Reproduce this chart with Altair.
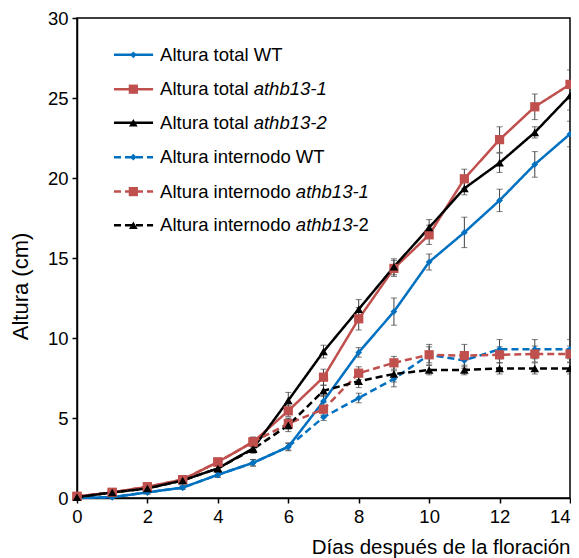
import altair as alt
import pandas as pd

# ---------------- data ----------------
days = list(range(15))

series_names = [
    "Altura total WT",
    "Altura total athb13-1",
    "Altura total athb13-2",
    "Altura internodo WT",
    "Altura internodo athb13-1",
    "Altura internodo athb13-2",
]

total_wt = [0.0, 0.05, 0.35, 0.65, 1.45, 2.2, 3.2, 6.05, 9.1, 11.65, 14.75, 16.6, 18.6, 20.85, 22.75]
total_1 = [0.1, 0.35, 0.7, 1.15, 2.25, 3.5, 5.45, 7.55, 11.2, 14.35, 16.45, 19.95, 22.4, 24.45, 25.85]
total_2 = [0.05, 0.35, 0.6, 1.1, 1.85, 3.1, 6.1, 9.15, 11.8, 14.45, 16.9, 19.35, 20.95, 22.85, 25.15]
int_wt = [0.0, 0.05, 0.35, 0.65, 1.45, 2.2, 3.2, 5.05, 6.25, 7.45, 8.95, 8.6, 9.3, 9.3, 9.3]
int_1 = [0.1, 0.35, 0.7, 1.15, 2.25, 3.5, 4.65, 5.55, 7.8, 8.45, 8.95, 8.9, 8.95, 9.0, 9.0]
int_2 = [0.05, 0.35, 0.6, 1.1, 1.85, 3.05, 4.55, 6.7, 7.3, 7.75, 8.0, 8.0, 8.1, 8.1, 8.1]

err_total_wt = [0.05, 0.05, 0.1, 0.1, 0.15, 0.2, 0.25, 0.35, 0.3, 0.85, 0.5, 0.95, 0.7, 0.8, 0.8]
err_total_1 = [0.05, 0.1, 0.1, 0.15, 0.2, 0.3, 0.35, 0.5, 0.7, 0.5, 0.6, 0.6, 0.8, 0.8, 0.9]
err_total_2 = [0.05, 0.1, 0.1, 0.15, 0.2, 0.25, 0.5, 0.4, 0.6, 0.5, 0.5, 0.4, 0.6, 0.35, 0.9]
err_int_wt = [0.05, 0.05, 0.1, 0.1, 0.15, 0.2, 0.2, 0.2, 0.3, 0.5, 0.5, 0.5, 0.6, 0.6, 0.6]
err_int_1 = [0.05, 0.1, 0.1, 0.15, 0.2, 0.3, 0.35, 0.4, 0.4, 0.4, 0.65, 0.7, 0.5, 0.5, 0.5]
err_int_2 = [0.05, 0.1, 0.1, 0.15, 0.2, 0.25, 0.4, 0.35, 0.4, 0.5, 0.3, 0.3, 0.35, 0.35, 0.35]

x_ticks = [0, 2, 4, 6, 8, 10, 12, 14]
y_ticks = [0, 5, 10, 15, 20, 25, 30]

legend_roman = ["Altura total WT", "Altura total ", "Altura total ",
                "Altura internodo WT", "Altura internodo ", "Altura internodo "]
legend_italic = ["", "athb13-1", "athb13-2", "", "athb13-1", "athb13"]
legend_tail = ["", "", "", "", "", "-2"]

# ---------------- styles ----------------
colors = ["#0070C0", "#C0504D", "#000000", "#0070C0", "#C0504D", "#000000"]
dashes = [[1, 0], [1, 0], [1, 0], [7, 4], [7, 4], [7, 4]]
shapes = ["diamond", "square", "triangle-up", "diamond", "square", "triangle-up"]
sizes = [45, 85, 75, 45, 85, 75]
FONT = "Liberation Sans"
FS = 18.5
# Arial / Liberation Sans advance widths (em) of the roman prefixes and italic stem
W_TOTAL = 5.058      # "Altura total "
W_INTER = 7.337      # "Altura internodo "
W_ATHB = 3.058       # "athb13"

# legend placement (in data units)
legend_rows_y = [27.7, 25.55, 23.45, 21.3, 19.15, 17.05]
leg_x1, leg_x2, leg_xm, leg_tx = 1.05, 2.16, 1.6, 2.36

values = [total_wt, total_1, total_2, int_wt, int_1, int_2]
errs = [err_total_wt, err_total_1, err_total_2, err_int_wt, err_int_1, err_int_2]

rows = []
for name, vals, es, sz in zip(series_names, values, errs, sizes):
    for d, v, e in zip(days, vals, es):
        rows.append({"series": name, "day": d, "value": v, "lo": v - e, "hi": v + e, "sz": sz})
df = pd.DataFrame(rows)

leg = pd.DataFrame({
    "series": series_names,
    "ly": legend_rows_y,
    "lx1": [leg_x1] * 6,
    "lx2": [leg_x2] * 6,
    "lxm": [leg_xm] * 6,
    "tx": [leg_tx] * 6,
    "roman": legend_roman,
    "italic": legend_italic,
    "tail": legend_tail,
    "sz": sizes,
    "kind": ["total"] * 3 + ["internodo"] * 3,
})

xscale = alt.Scale(domain=[0, 14], nice=False)
yscale = alt.Scale(domain=[0, 30], nice=False)

xaxis = alt.Axis(values=x_ticks, title="Días después de la floración", titleAnchor="end",
                 titleY=55, titleBaseline="alphabetic", titleFontSize=20.5, format="d",
                 labelFlush=False,
                 labelAlign=alt.ExprRef(expr="datum.value == 14 ? 'right' : 'center'"))
yaxis = alt.Axis(values=y_ticks, title="Altura (cm)", titleX=-50, titleY=268,
                 titleBaseline="alphabetic", titleAlign="center", titleFontSize=22, format="d",
                 labelFlush=False)


def X(field):
    return alt.X(field, type="quantitative", scale=xscale, axis=xaxis)


def Y(field):
    return alt.Y(field, type="quantitative", scale=yscale, axis=yaxis)


color = alt.Color("series:N", scale=alt.Scale(domain=series_names, range=colors), legend=None)
dash = alt.StrokeDash("series:N", scale=alt.Scale(domain=series_names, range=dashes), legend=None)
shape = alt.Shape("series:N", scale=alt.Scale(domain=series_names, range=shapes), legend=None)
size = alt.Size("sz:Q", scale=None, legend=None)

base = alt.Chart(df)

err_rule = base.mark_rule(color="#404040", strokeWidth=1).encode(
    x=X("day"), y=Y("lo"), y2="hi")
err_top = base.mark_tick(color="#404040", thickness=1, size=6, orient="horizontal").encode(
    x=X("day"), y=Y("hi"))
err_bot = base.mark_tick(color="#404040", thickness=1, size=6, orient="horizontal").encode(
    x=X("day"), y=Y("lo"))

lines = base.mark_line(strokeWidth=2.5).encode(
    x=X("day"), y=Y("value"), color=color, strokeDash=dash, detail="series:N",
    order="day:Q")
points = base.mark_point(filled=True, opacity=1).encode(
    x=X("day"), y=Y("value"), color=color, shape=shape, size=size)

lbase = alt.Chart(leg)
leg_lines = lbase.mark_rule(strokeWidth=2.5).encode(
    x=X("lx1"), x2="lx2", y=Y("ly"), color=color, strokeDash=dash)
leg_pts = lbase.mark_point(filled=True, opacity=1).encode(
    x=X("lxm"), y=Y("ly"), color=color, shape=shape, size=size)
leg_roman = lbase.mark_text(align="left", baseline="middle", font=FONT, fontSize=FS,
                            color="black").encode(x=X("tx"), y=Y("ly"), text="roman:N")
leg_it_total = lbase.transform_filter(alt.datum.kind == "total").mark_text(
    align="left", baseline="middle", font=FONT, fontSize=FS, fontStyle="italic",
    color="black", dx=W_TOTAL * FS).encode(x=X("tx"), y=Y("ly"), text="italic:N")
leg_it_int = lbase.transform_filter(alt.datum.kind == "internodo").mark_text(
    align="left", baseline="middle", font=FONT, fontSize=FS, fontStyle="italic",
    color="black", dx=W_INTER * FS).encode(x=X("tx"), y=Y("ly"), text="italic:N")
leg_tail = lbase.transform_filter(alt.datum.kind == "internodo").mark_text(
    align="left", baseline="middle", font=FONT, fontSize=FS,
    color="black", dx=(W_INTER + W_ATHB) * FS).encode(x=X("tx"), y=Y("ly"), text="tail:N")

chart = alt.layer(
    err_rule, err_top, err_bot, lines, points,
    leg_lines, leg_pts, leg_roman, leg_it_total, leg_it_int, leg_tail,
).properties(
    width=493, height=480,
    autosize=alt.AutoSizeParams(type="none"),
    padding={"left": 69, "top": 10, "right": 1, "bottom": 60},
).configure_view(
    stroke="black", strokeWidth=1.5
).configure_axis(
    grid=False, domainColor="black", domainWidth=1.5, tickColor="black", tickWidth=1.5,
    tickSize=5, labelFont=FONT, labelFontSize=FS, labelColor="black", labelPadding=4,
    titleFont=FONT, titleFontWeight="normal", titleColor="black",
)

chart.save("out.html", embed_options={"renderer": "svg", "actions": False})
